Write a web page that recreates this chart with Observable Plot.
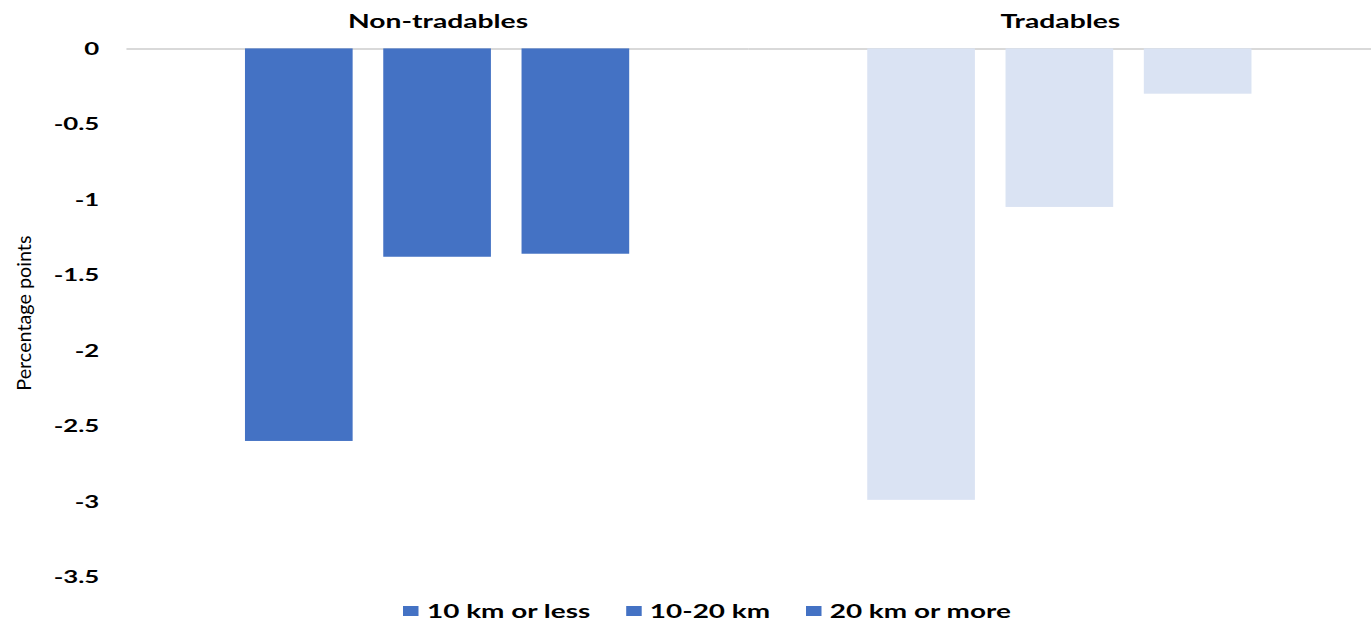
<!DOCTYPE html>
<html>
<head>
<meta charset="utf-8">
<script src="https://cdn.jsdelivr.net/npm/d3@7"></script>
<script src="https://cdn.jsdelivr.net/npm/@observablehq/plot@0.6"></script>
<style>
  body { margin: 0; overflow: hidden; background: #fff; font-family: Lato, "Open Sans", sans-serif; }
  #chart { position: absolute; left: 0; top: 0; }
  #legend { position: absolute; left: 403px; top: 600px; height: 22px; display: flex; align-items: center;
            font-family: Lato, sans-serif; font-weight: bold; font-size: 18px; color: #000; white-space: nowrap;
            transform: scaleX(1.55); transform-origin: 0 50%; }
  #legend .item { display: flex; align-items: center; margin-right: 23px; }
  #legend .swatch { width: 10.3px; height: 10px; margin-right: 5.2px; }
</style>
</head>
<body>
<div id="chart"></div>
<div id="legend"></div>
<script>
// Sectors (panels) and distance bands (bars within each panel)
const sectors = ["Non-tradables", "Tradables"];
const distances = ["10 km or less", "10-20 km", "20 km or more"];

// Change in percentage points, per distance band
const nonTradables = [-2.6, -1.38, -1.36];
const tradables = [-2.99, -1.05, -0.3];

// Y axis ticks
const yTicks = [0, -0.5, -1, -1.5, -2, -2.5, -3, -3.5];

// Bar colour per sector, and the legend swatch colour
const sectorColors = ["#4472C4", "#DAE3F3"];
const legendColor = "#4472C4";

const rows = [
  ...distances.map((d, i) => ({sector: sectors[0], distance: d, value: nonTradables[i]})),
  ...distances.map((d, i) => ({sector: sectors[1], distance: d, value: tradables[i]}))
];

const chart = Plot.plot({
  width: 1388,
  height: 600,
  marginLeft: 128,
  marginRight: 0,
  marginTop: 49,
  marginBottom: 16,
  style: {fontFamily: "Lato, sans-serif", fontSize: "18px", fontWeight: "bold", color: "#000", background: "#fff"},
  fx: {domain: sectors, padding: 0, axis: "top", tickSize: 0, tickPadding: 21, label: null},
  x: {domain: distances, paddingInner: 0.221, paddingOuter: 0.86, axis: null},
  y: {
    domain: [-3.5, 0], ticks: yTicks, tickSize: 0, tickPadding: 28,
    tickFormat: d => String(d),
    label: "Percentage points", labelAnchor: "center", labelArrow: "none", labelOffset: 111
  },
  color: {domain: sectors, range: sectorColors},
  marks: [
    Plot.ruleY([0], {stroke: "#d9d9d9", strokeWidth: 2}),
    Plot.barY(rows, {fx: "sector", x: "distance", y: "value", fill: "sector"})
  ]
});

// Wide bold lettering: stretch label glyphs horizontally about their anchor
function widen(selection, sx) {
  selection.each(function() {
    const t = this.getAttribute("transform") || "";
    this.setAttribute("transform", `${t} scale(${sx},1)`);
  });
}
const svg = d3.select(chart);
widen(svg.selectAll('g[aria-label="y-axis tick label"] text'), 1.45);
svg.selectAll('g[aria-label="fx-axis tick label"]').attr("font-size", 20);
widen(svg.selectAll('g[aria-label="fx-axis tick label"] text'), 1.43);
svg.selectAll('g[aria-label="y-axis label"]').attr("font-weight", "normal").attr("font-size", 20);

document.getElementById("chart").appendChild(chart);

const legend = d3.select("#legend");
distances.forEach(d => {
  const item = legend.append("div").attr("class", "item");
  item.append("div").attr("class", "swatch").style("background", legendColor);
  item.append("span").text(d);
});
</script>
</body>
</html>
